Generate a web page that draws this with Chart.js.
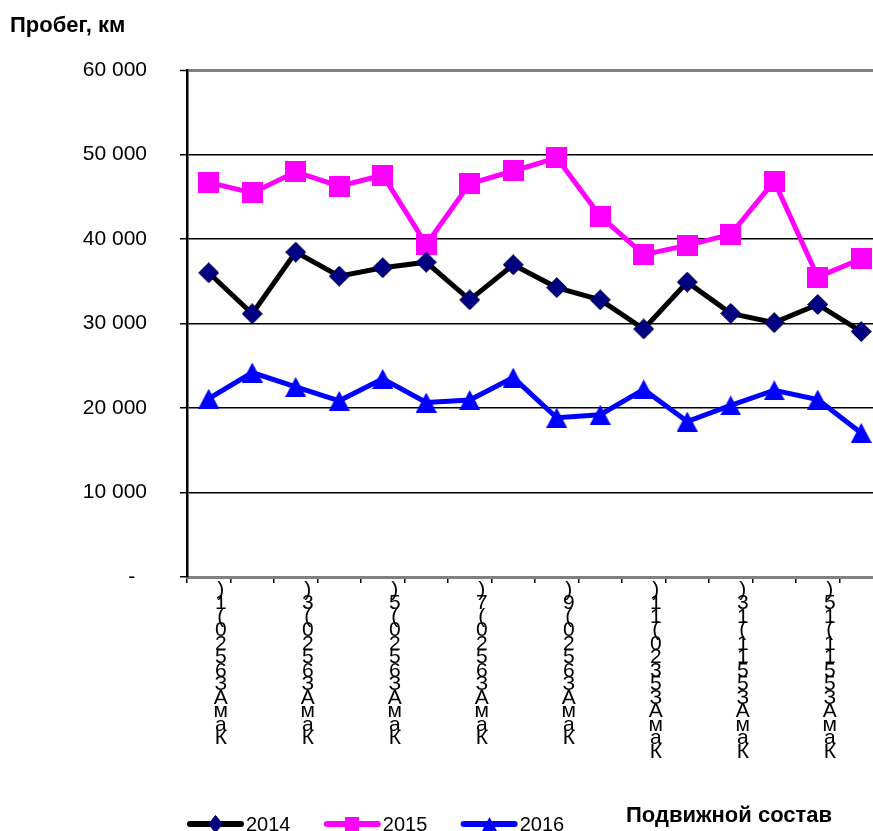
<!DOCTYPE html>
<html lang="ru">
<head>
<meta charset="utf-8">
<script src="https://cdn.jsdelivr.net/npm/chart.js@4.4.1/dist/chart.umd.min.js"></script>
<style>
  html, body { margin: 0; padding: 0; overflow: hidden; background: #fff; }
  #wrap { position: relative; width: 873px; height: 831px; overflow: hidden; }
  #box { position: absolute; left: 0; top: 0; width: 898px; height: 845px; }
  .cap { position: absolute; font-family: "Liberation Sans", Arial, sans-serif; font-weight: bold;
         font-size: 22px; line-height: 20px; color: #000; white-space: nowrap; }
</style>
</head>
<body>
<div id="wrap">
  <div id="box"><canvas id="c"></canvas></div>
  <div class="cap" style="left:10px; top:15px;">Пробег, км</div>
  <div class="cap" style="left:626px; top:805px;">Подвижной состав</div>
</div>
<script>
// Rolling stock units (axis shows every other one)
const categories = [
  'КамАЗ6520(1)', 'КамАЗ6520(2)', 'КамАЗ6520(3)', 'КамАЗ6520(4)',
  'КамАЗ6520(5)', 'КамАЗ6520(6)', 'КамАЗ6520(7)', 'КамАЗ6520(8)',
  'КамАЗ6520(9)', 'КамАЗ6520(10)', 'КамАЗ5320(11)', 'КамАЗ5320(12)',
  'КамАЗ5511(13)', 'КамАЗ5511(14)', 'КамАЗ5511(15)', 'КамАЗ5511(16)'
];
const years = ['2014', '2015', '2016'];

// Mileage per unit, km
const run2014 = [36000, 31150, 38450, 35600, 36600, 37250, 32800, 36950, 34250, 32800, 29350, 34900, 31200, 30100, 32250, 29050];
const run2015 = [46700, 45450, 47950, 46250, 47550, 39350, 46550, 48050, 49600, 42700, 38150, 39250, 40550, 46850, 35500, 37650];
const run2016 = [21100, 24200, 22500, 20850, 23450, 20650, 20950, 23600, 18850, 19200, 22200, 18400, 20300, 22100, 21000, 17050];

const yMin = 0, yMax = 60000, yStep = 10000;

const FONT = '"Liberation Sans", Arial, sans-serif';

function makeMarker(w, h, paint) {
  const c = document.createElement('canvas');
  c.width = w; c.height = h;
  paint(c.getContext('2d'), w, h);
  return c;
}
function diamond(w, h) {
  return makeMarker(w, h, (g) => {
    g.beginPath();
    g.moveTo(w / 2, 0.5); g.lineTo(w - 0.5, h / 2); g.lineTo(w / 2, h - 0.5); g.lineTo(0.5, h / 2);
    g.closePath();
    g.fillStyle = '#000080'; g.fill();
    g.strokeStyle = '#00004a'; g.lineWidth = 1; g.stroke();
  });
}
function square(w, h) {
  return makeMarker(w, h, (g) => { g.fillStyle = '#FF00FF'; g.fillRect(0, 0, w, h); });
}
function triangle(w, h) {
  return makeMarker(w, h, (g) => {
    g.beginPath();
    g.moveTo(w / 2, 0); g.lineTo(w, h); g.lineTo(0, h); g.closePath();
    g.fillStyle = '#0000FF'; g.fill();
  });
}

const plotMarkers = [diamond(21, 21), square(21, 21), triangle(21, 20)];
const keyMarkers = [diamond(15, 18), square(14, 15), triangle(15, 14)];
const lineColors = ['#000000', '#FF00FF', '#0000FF'];
const series = [run2014, run2015, run2016];

const fmt = (v) => v === 0 ? '-  ' : String(v).replace(/\B(?=(\d{3})+(?!\d))/g, ' ');

// Legend key: a short thick line with the series marker on it
const legendKeys = {
  id: 'legendKeys',
  afterDraw(chart) {
    const lg = chart.legend;
    if (!lg || !lg.legendHitBoxes) return;
    const g = chart.ctx;
    const bw = lg.options.labels.boxWidth;
    lg.legendHitBoxes.forEach((hb, i) => {
      const y = hb.top + hb.height / 2 - 1;
      const x0 = hb.left - 2, x1 = hb.left + bw + 8;
      g.save();
      g.strokeStyle = lineColors[i];
      g.lineWidth = 6;
      g.lineCap = 'round';
      g.beginPath(); g.moveTo(x0 + 3, y); g.lineTo(x1 - 3, y); g.stroke();
      const m = keyMarkers[i];
      g.drawImage(m, Math.round((x0 + x1) / 2 - m.width / 2), Math.round(y - m.height / 2));
      g.restore();
    });
  }
};

new Chart(document.getElementById('c'), {
  type: 'line',
  data: {
    labels: categories,
    datasets: years.map((y, i) => ({
      label: y,
      data: series[i],
      borderColor: lineColors[i],
      backgroundColor: lineColors[i],
      borderWidth: 5,
      tension: 0,
      fill: false,
      pointStyle: plotMarkers[i],
      pointRadius: 10
    }))
  },
  options: {
    responsive: true,
    maintainAspectRatio: false,
    animation: false,
    devicePixelRatio: 1,
    events: [],
    layout: { padding: { top: 70, left: 0, right: 0, bottom: 0 } },
    plugins: {
      tooltip: { enabled: false },
      title: { display: false },
      legend: {
        position: 'bottom',
        align: 'start',
        fullSize: false,
        labels: {
          color: '#000',
          font: { family: FONT, size: 20 },
          boxWidth: 47,
          boxHeight: 6,
          padding: 2,
          generateLabels: (chart) => chart.data.datasets.map((ds, i) => ({
            text: ds.label + '      ',
            fillStyle: 'rgba(0,0,0,0)',
            strokeStyle: 'rgba(0,0,0,0)',
            lineWidth: 0,
            fontColor: '#000',
            datasetIndex: i,
            hidden: false
          }))
        }
      }
    },
    scales: {
      x: {
        offset: true,
        grid: {
          offset: true, drawOnChartArea: false, drawTicks: true,
          tickLength: 6, color: '#000', tickColor: '#000', lineWidth: 1.5
        },
        border: { color: '#808080', width: 3 },
        ticks: {
          autoSkip: false, maxRotation: 0, minRotation: 0,
          labelOffset: 12, padding: 0, color: '#000',
          font: { family: FONT, size: 21, lineHeight: '13.5px' },
          callback: (v, i) => (i % 2 ? '' : [...categories[i]].reverse())
        },
        afterFit: (s) => { s.height = 236; s.paddingLeft = 0; s.paddingRight = 0; }
      },
      y: {
        min: yMin, max: yMax,
        ticks: {
          stepSize: yStep, padding: 33, color: '#000',
          font: { family: FONT, size: 21 },
          callback: (v) => fmt(v)
        },
        grid: {
          color: (c) => (c.tick && (c.tick.value === yMax || c.tick.value === yMin)) ? '#808080' : '#000',
          lineWidth: (c) => (c.tick && c.tick.value === yMax) ? 3 : 1.5,
          tickColor: '#000', tickWidth: 1.5, tickLength: 7
        },
        border: { color: '#000', width: 2.5 },
        afterFit: (s) => { s.width = 187; }
      }
    }
  },
  plugins: [legendKeys]
});
</script>
</body>
</html>
